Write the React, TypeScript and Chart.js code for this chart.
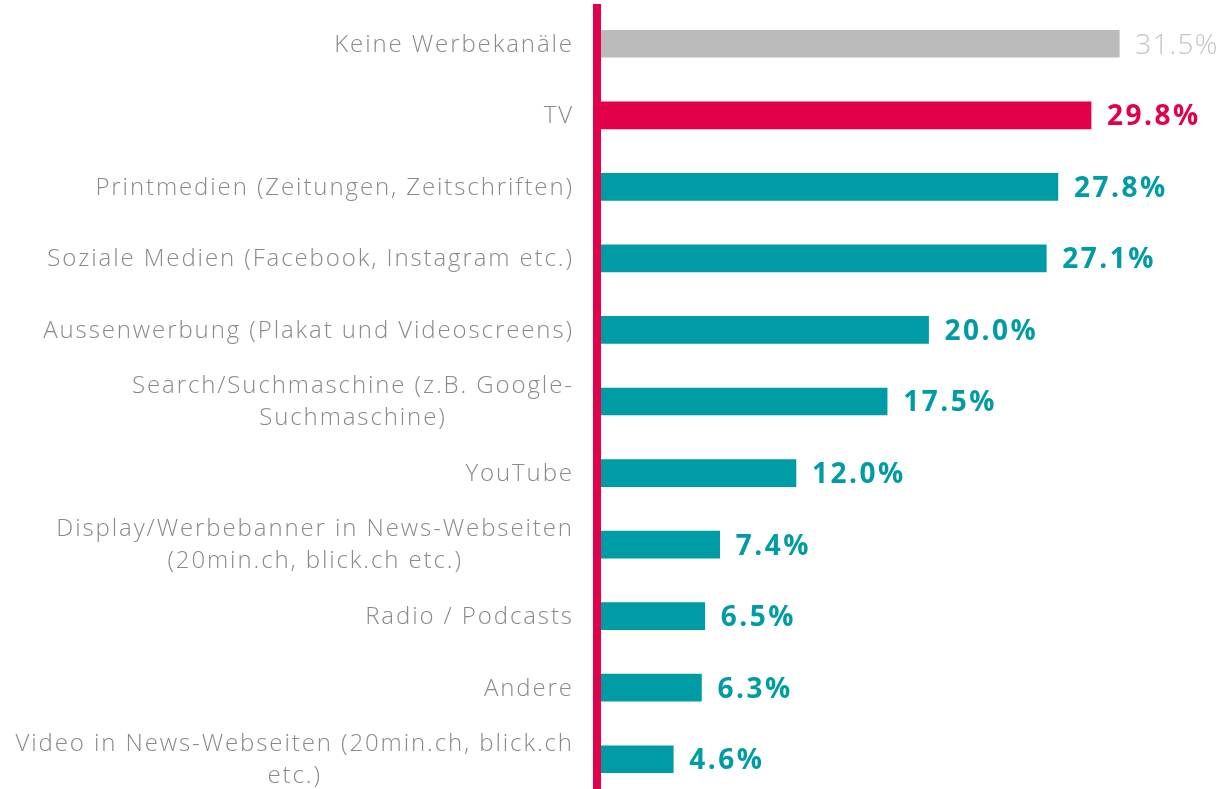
import React, { useEffect, useRef } from "react";
import { Chart, registerables } from "chart.js";

Chart.register(...registerables);

const categories: string[][] = [
  ["Keine Werbekanäle"],
  ["TV"],
  ["Printmedien (Zeitungen, Zeitschriften)"],
  ["Soziale Medien (Facebook, Instagram etc.)"],
  ["Aussenwerbung (Plakat und Videoscreens)"],
  ["Search/Suchmaschine (z.B. Google-", "Suchmaschine)"],
  ["YouTube"],
  ["Display/Werbebanner in News-Webseiten", "(20min.ch, blick.ch etc.)"],
  ["Radio / Podcasts"],
  ["Andere"],
  ["Video in News-Webseiten (20min.ch, blick.ch", "etc.)"],
];

const values: number[] = [31.5, 29.8, 27.8, 27.1, 20.0, 17.5, 12.0, 7.4, 6.5, 6.3, 4.6];

const GRAY = "#bbbbbb";
const RED = "#e3004a";
const TEAL = "#009ca6";
const barColor = (i: number) => (i === 0 ? GRAY : i === 1 ? RED : TEAL);
const labelColor = (i: number) => (i === 0 ? "#c4c4c4" : i === 1 ? RED : TEAL);

const FONT = "'Open Sans', Lato, sans-serif";

const labelsPlugin = {
  id: "customLabels",
  afterDatasetsDraw(chart: any) {
    const ctx = chart.ctx;
    const yScale = chart.scales.y;
    const meta = chart.getDatasetMeta(0);
    const area = chart.chartArea;
    ctx.save();
    // category labels
    const ls = 1.9;
    ctx.font = `300 24px ${FONT}`;
    (ctx as any).letterSpacing = ls + "px";
    ctx.fillStyle = "#8a8a8a";
    ctx.textAlign = "left";
    ctx.textBaseline = "middle";
    const lineH = 32;
    const rightEdge = area.left - 25;
    categories.forEach((lines, i) => {
      const yc = yScale.getPixelForValue(i) + 1;
      const widths = lines.map((l) => ctx.measureText(l).width - ls);
      const widest = Math.max(...widths);
      const cx = rightEdge - widest / 2;
      const y0 = yc - ((lines.length - 1) * lineH) / 2;
      lines.forEach((l, k) => ctx.fillText(l, cx - widths[k] / 2, y0 + k * lineH));
    });
    // value labels
    meta.data.forEach((bar: any, i: number) => {
      if (i === 0) {
        ctx.font = `300 28px ${FONT}`;
        (ctx as any).letterSpacing = "1.2px";
      } else {
        ctx.font = `700 28px ${FONT}`;
        (ctx as any).letterSpacing = "2.5px";
      }
      ctx.fillStyle = labelColor(i);
      ctx.fillText(values[i].toFixed(1) + "%", bar.x + 16, bar.y + 2);
    });
    ctx.restore();
  },
};

export default function App() {
  const ref = useRef<HTMLCanvasElement | null>(null);
  useEffect(() => {
    if (!ref.current) return;
    const chart = new Chart(ref.current, {
      type: "bar",
      data: {
        labels: categories.map((c) => c.join(" ")),
        datasets: [
          {
            data: values,
            backgroundColor: values.map((_, i) => barColor(i)),
            barThickness: 27,
            borderWidth: 0,
          },
        ],
      },
      options: {
        indexAxis: "y",
        responsive: false,
        animation: false,
        devicePixelRatio: 1,
        layout: { padding: { top: 8, bottom: 5, left: 0, right: 0 } },
        plugins: {
          legend: { display: false },
          tooltip: { enabled: false },
          title: { display: false },
        },
        scales: {
          x: {
            display: false,
            min: 0,
            max: 38,
          },
          y: {
            display: true,
            grid: { display: false, drawTicks: false },
            ticks: { display: false },
            border: { display: true, color: RED, width: 8, z: 1 },
            afterFit: (scale: any) => {
              scale.width = 597;
            },
          },
        },
      },
      plugins: [labelsPlugin],
    });
    return () => chart.destroy();
  }, []);
  return (
    <div
      style={{
        position: "fixed",
        left: 0,
        top: 0,
        width: 1227,
        height: 789,
        overflow: "hidden",
        background: "#fff",
      }}
    >
      <canvas ref={ref} width={1227} height={800} style={{ display: "block", width: 1227, height: 800 }} />
    </div>
  );
}
